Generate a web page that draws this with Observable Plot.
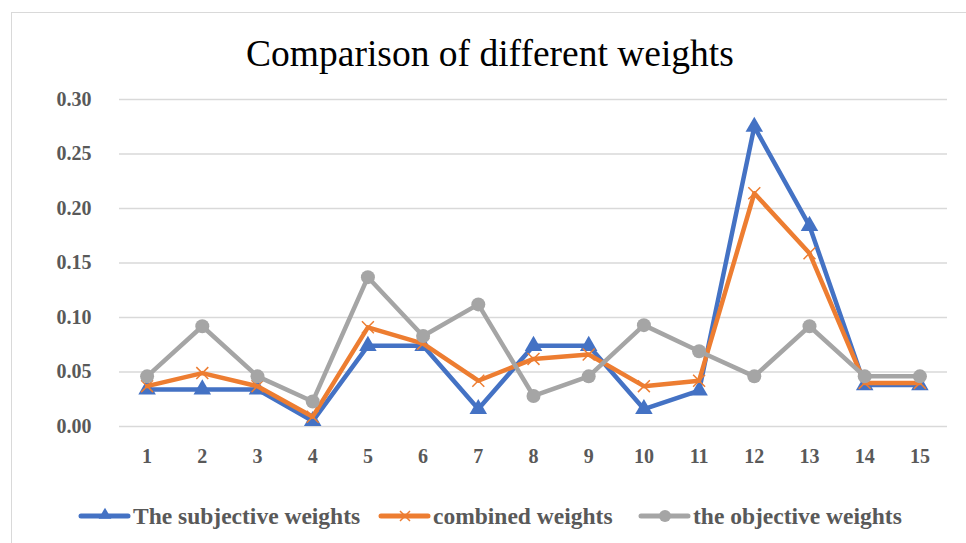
<!DOCTYPE html>
<html>
<head>
<meta charset="utf-8">
<script src="https://cdn.jsdelivr.net/npm/d3@7"></script>
<script src="https://cdn.jsdelivr.net/npm/@observablehq/plot@0.6"></script>
<style>
  html, body { margin: 0; padding: 0; background: #fff; }
  body { width: 966px; height: 543px; overflow: hidden; position: relative; }
  #frame { position: absolute; left: 11px; top: 12px; width: 960px; height: 540px; border-left: 1px solid #d9d9d9; border-top: 1px solid #d9d9d9; }
  #title { position: absolute; left: 0; top: 20px; }
  #chart { position: absolute; left: 0; top: 80px; }
  #legend { position: absolute; left: 0; top: 496px; }
</style>
</head>
<body>
<div id="frame"></div>
<div id="title"></div>
<div id="chart"></div>
<div id="legend"></div>
<script>
const categories = [1, 2, 3, 4, 5, 6, 7, 8, 9, 10, 11, 12, 13, 14, 15];
const subjective = [0.034, 0.034, 0.034, 0.005, 0.074, 0.074, 0.016, 0.074, 0.074, 0.016, 0.033, 0.275, 0.184, 0.038, 0.038];
const combined   = [0.037, 0.049, 0.037, 0.009, 0.091, 0.076, 0.042, 0.062, 0.066, 0.037, 0.042, 0.214, 0.159, 0.040, 0.040];
const objective  = [0.046, 0.092, 0.046, 0.023, 0.137, 0.083, 0.112, 0.028, 0.046, 0.093, 0.069, 0.046, 0.092, 0.046, 0.046];
const seriesNames = ["The subjective weights", "combined weights", "the objective weights"];
const yTicks = [0, 0.05, 0.10, 0.15, 0.20, 0.25, 0.30];
const titleText = "Comparison of different weights";

const colors = ["#4472C4", "#ED7D31", "#A5A5A5"];
const symbols = ["triangle", "times", "circle"];
const seriesValues = [subjective, combined, objective];
const serif = "Liberation Serif, Times New Roman, serif";

const rows = [];
seriesValues.forEach((vals, s) => {
  categories.forEach((c, i) => rows.push({series: seriesNames[s], x: c, y: vals[i]}));
});

// title (separate svg above the chart)
const tsvg = d3.create("svg").attr("width", 966).attr("height", 58);
tsvg.append("text").attr("x", 490).attr("y", 46).attr("text-anchor", "middle")
  .attr("font-family", serif).attr("font-size", 37.5).attr("fill", "#000").text(titleText);
document.getElementById("title").appendChild(tsvg.node());

const marks = [
  Plot.ruleY(yTicks, {stroke: "#d9d9d9", strokeWidth: 1.5}),
  Plot.axisY(yTicks, {tickSize: 0, tickPadding: 28, tickFormat: d3.format(".2f"), fontSize: 20, fontWeight: "bold", fill: "#595959", fontFamily: serif, label: null}),
  Plot.axisX(categories, {tickSize: 0, tickPadding: 22, fontSize: 20, fontWeight: "bold", fill: "#595959", fontFamily: serif, label: null})
];
seriesNames.forEach((name, s) => {
  const data = rows.filter(d => d.series === name);
  marks.push(Plot.line(data, {x: "x", y: "y", stroke: colors[s], strokeWidth: 4.5, strokeLinejoin: "round"}));
  if (symbols[s] === "times") {
    marks.push(Plot.dot(data, {x: "x", y: "y", symbol: "times", r: 5.5, stroke: colors[s], strokeWidth: 1.5}));
  } else if (symbols[s] === "triangle") {
    marks.push(Plot.dot(data, {x: "x", y: "y", symbol: "triangle", r: 6.5, fill: colors[s], stroke: "none"}));
  } else {
    marks.push(Plot.dot(data, {x: "x", y: "y", symbol: "circle", r: 7, fill: colors[s], stroke: "none"}));
  }
});

const chart = Plot.plot({
  width: 966,
  height: 400,
  marginLeft: 119,
  marginRight: 19,
  marginTop: 19,
  marginBottom: 54,
  x: {type: "linear", domain: [0.5, 15.5], label: null},
  y: {domain: [0, 0.30], label: null},
  style: {background: "transparent", fontFamily: serif},
  marks
});
document.getElementById("chart").appendChild(chart);

// legend (separate svg below the chart)
const lsvg = d3.create("svg").attr("width", 966).attr("height", 40);
const legendX = [79, 379, 639];
seriesNames.forEach((name, s) => {
  const g = lsvg.append("g").attr("transform", `translate(${legendX[s]},20)`);
  g.append("line").attr("x1", 2).attr("x2", 49).attr("y1", 0).attr("y2", 0)
    .attr("stroke", colors[s]).attr("stroke-width", 5).attr("stroke-linecap", "round");
  if (symbols[s] === "triangle") {
    g.append("path").attr("d", d3.symbol(d3.symbolTriangle, 70)()).attr("transform", "translate(26,-1)").attr("fill", colors[s]);
  } else if (symbols[s] === "times") {
    g.append("path").attr("d", "M21,-5L31,5M31,-5L21,5").attr("stroke", colors[s]).attr("stroke-width", 1.5);
  } else {
    g.append("circle").attr("cx", 26).attr("cy", 0).attr("r", 6).attr("fill", colors[s]);
  }
  g.append("text").attr("x", 54).attr("y", 8).attr("font-family", serif).attr("font-size", 23.5)
    .attr("font-weight", "bold").attr("fill", "#595959").text(name);
});
document.getElementById("legend").appendChild(lsvg.node());
</script>
</body>
</html>
